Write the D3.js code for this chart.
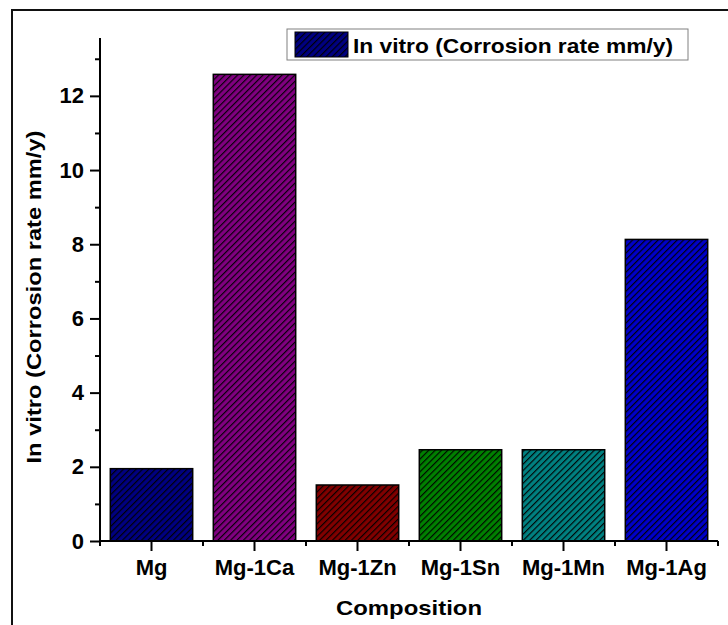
<!DOCTYPE html>
<html>
<head>
<meta charset="utf-8">
<script src="https://cdn.jsdelivr.net/npm/d3@7"></script>
<style>
  html, body { margin: 0; padding: 0; background: #fff; }
  svg { display: block; font-family: "Liberation Sans", Arial, sans-serif; }
</style>
</head>
<body>
<svg id="chart" width="728" height="625"></svg>
<script>
// ---- data ----
const categories = ["Mg", "Mg-1Ca", "Mg-1Zn", "Mg-1Sn", "Mg-1Mn", "Mg-1Ag"];
const corrosionRate = [1.95, 12.58, 1.51, 2.46, 2.46, 8.13];
const majorTicks = [0, 2, 4, 6, 8, 10, 12];
const minorTicks = [1, 3, 5, 7, 9, 11, 13];
const seriesName = "In vitro (Corrosion rate mm/y)";
const yTitle = "In vitro (Corrosion rate mm/y)";
const xTitle = "Composition";
const barColors = ["#000080", "#800080", "#800000", "#008000", "#008080", "#0000C8"];

// ---- layout ----
const svg = d3.select("#chart");
const pLeft = 100, pRight = 718, pTop = 38, pBottom = 541;

const x = d3.scaleBand().domain(categories).range([pLeft, pRight])
  .paddingInner(0.2).paddingOuter(0.1);
const y = d3.scaleLinear().domain([0, 13.56]).range([pBottom, pTop]);

// outer frame
svg.append("rect").attr("x", 12).attr("y", 10).attr("width", 760).attr("height", 700)
  .attr("fill", "none").attr("stroke", "#111").attr("stroke-width", 2);

// hatch patterns
const defs = svg.append("defs");
barColors.forEach((c, i) => {
  const p = defs.append("pattern").attr("id", "hatch" + i)
    .attr("patternUnits", "userSpaceOnUse").attr("width", 4.5).attr("height", 4.5)
    .attr("patternTransform", "rotate(45)");
  p.append("rect").attr("width", 4.5).attr("height", 4.5).attr("fill", c);
  p.append("line").attr("x1", 0.6).attr("y1", 0).attr("x2", 0.6).attr("y2", 4.5)
    .attr("stroke", "#000").attr("stroke-width", 1.1);
});

// bars
svg.append("g").selectAll("rect").data(categories).join("rect")
  .attr("x", d => x(d))
  .attr("y", (d, i) => y(corrosionRate[i]))
  .attr("width", x.bandwidth())
  .attr("height", (d, i) => y(0) - y(corrosionRate[i]))
  .attr("fill", (d, i) => `url(#hatch${i})`)
  .attr("stroke", "#000").attr("stroke-width", 1.5);

// y axis
const yAxis = svg.append("g").attr("transform", `translate(${pLeft},0)`)
  .call(d3.axisLeft(y).tickValues(majorTicks).tickSize(10).tickPadding(6).tickFormat(d3.format("d")));
svg.append("g").attr("class", "minor").attr("transform", `translate(${pLeft},0)`)
  .call(d3.axisLeft(y).tickValues(minorTicks).tickSize(5).tickFormat(""))
  .select(".domain").remove();

// x axis
const xAxis = svg.append("g").attr("transform", `translate(0,${pBottom})`)
  .call(d3.axisBottom(x).tickSize(10).tickPadding(8));
const step = x.step();
const boundaries = d3.range(categories.length + 1).map(i => pLeft + i * step);
svg.append("g").selectAll("line").data(boundaries).join("line")
  .attr("x1", d => d).attr("x2", d => d)
  .attr("y1", pBottom).attr("y2", pBottom + 5)
  .attr("stroke", "#000").attr("stroke-width", 2);

[yAxis, xAxis].forEach(g => {
  g.select(".domain").attr("stroke-width", 2).attr("stroke", "#000");
  g.selectAll("text").attr("font-size", 22).attr("font-weight", "bold")
    .attr("font-family", "Liberation Sans, Arial, sans-serif").attr("fill", "#000");
});
svg.selectAll(".tick line").attr("stroke", "#000").attr("stroke-width", 2);
yAxis.select(".domain").attr("d", `M0,${pBottom}V${pTop}`);
xAxis.select(".domain").attr("d", `M${pLeft},0H${pRight}`);

// axis titles
svg.append("text").attr("x", (pLeft + pRight) / 2).attr("y", 615)
  .attr("text-anchor", "middle").attr("font-size", 21).attr("font-weight", "bold")
  .attr("textLength", 146).attr("lengthAdjust", "spacingAndGlyphs")
  .text(xTitle);
svg.append("text").attr("transform", "translate(41,297) rotate(-90)")
  .attr("text-anchor", "middle").attr("font-size", 21).attr("font-weight", "bold")
  .attr("textLength", 333).attr("lengthAdjust", "spacingAndGlyphs")
  .text(yTitle);

// legend
const lg = svg.append("g");
lg.append("rect").attr("x", 287).attr("y", 29).attr("width", 401).attr("height", 31)
  .attr("fill", "#fff").attr("stroke", "#808080").attr("stroke-width", 1);
lg.append("rect").attr("x", 295).attr("y", 32).attr("width", 53).attr("height", 25)
  .attr("fill", "url(#hatch0)").attr("stroke", "#000").attr("stroke-width", 1);
lg.append("text").attr("x", 353).attr("y", 52.5).attr("font-size", 21).attr("font-weight", "bold")
  .attr("textLength", 320).attr("lengthAdjust", "spacingAndGlyphs")
  .text(seriesName);
</script>
</body>
</html>
